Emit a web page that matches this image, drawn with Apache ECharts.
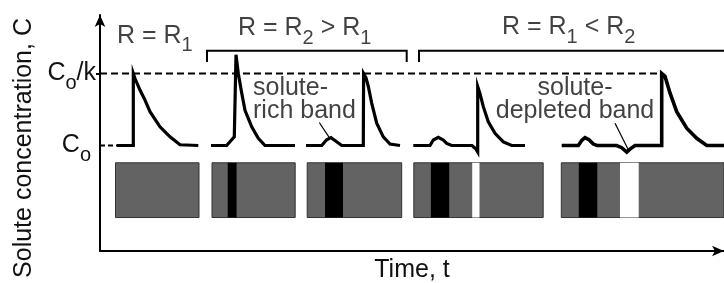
<!DOCTYPE html>
<html lang="en">
<head>
<meta charset="UTF-8">
<title>Solute bands</title>
<script src="https://cdn.jsdelivr.net/npm/echarts@6/dist/echarts.min.js"></script>
<style>
    html, body { margin: 0; padding: 0; background: #fff; }
    #chart { width: 724px; height: 283px; }
</style>
</head>
<body>
<div id="chart"></div>
<script>
// time runs 0..624 (arbitrary units), concentration in units where Co = 1 and Co/k = 2
const yTickValues = [1, 2];
const yTickLabels = ['{c|C}{s2|o}', '{c|C}{s|o}{c|/k}'];

// concentration profiles, one per growth interval
const profile1 = [[17, 1], [33.3, 1], [33.3, 2.0], [35, 1.93], [40, 1.77], [45, 1.63], [50, 1.47], [60, 1.26], [70, 1.12], [80, 1.01], [98.3, 1]];
const profile2 = [[111, 1], [126.7, 1], [131.7, 1.08], [134.3, 1.12], [136, 2.26], [138.3, 2.0], [141.7, 1.73], [145, 1.49], [151.7, 1.26], [158.3, 1.1], [165, 1.0], [195, 1]];
const profile3 = [[206, 1], [221.7, 1], [226.7, 1.08], [231, 1.11], [236, 1.06], [241.7, 1], [263.3, 1], [263.6, 2.0], [266, 1.94], [268.3, 1.82], [271.7, 1.59], [276.7, 1.31], [283.3, 1.12], [290, 1.02], [300, 1]];
const profile4 = [[313.3, 1], [330, 1], [333.3, 1.076], [338.3, 1.114], [343.3, 1.076], [346.7, 1.03], [351.7, 1], [372, 1], [376, 0.95], [377.7, 0.91], [377.7, 1.82], [380, 1.72], [383.3, 1.54], [388.3, 1.33], [395, 1.17], [403.3, 1.05], [411.7, 1], [425, 1]];
const profile5 = [[461.7, 1], [478.3, 1], [481.7, 1.07], [485, 1.11], [489, 1.08], [493.3, 1.02], [497, 1], [516.7, 1], [521.7, 0.97], [526.7, 0.91], [530, 0.95], [535, 1], [561.7, 1], [561.7, 2.0], [565, 1.96], [570, 1.73], [576.7, 1.47], [586.7, 1.24], [596.7, 1.1], [606.7, 1.0], [624, 1]];

// reference levels and brackets
const coKLevel = [[0, 2], [562, 2]];
const coLevel = [[0, 1], [17, 1]];
const bracketR2 = [[107, 2.16], [107, 2.317], [306.7, 2.317], [306.7, 2.16]];
const bracketR1 = [[319, 2.16], [319, 2.317], [624, 2.317]];
const leaderRich = [[219.3, 1.32], [229.3, 1.11]];
const leaderDepleted = [[515, 1.31], [528.3, 0.94]];

// microstructure strips: [tStart, tEnd, cBottom, cTop]
const strips = [[15.5, 99, 0, 0.76], [112, 195.2, 0, 0.76], [207.2, 301.7, 0, 0.76], [313.8, 443.2, 0, 0.76], [461.3, 640, 0, 0.76]];
const richBands = [[127.7, 136.6, 0, 0.76], [225, 243, 0, 0.76], [330.9, 349.2, 0, 0.76], [478.8, 497.3, 0, 0.76]];
const depletedBands = [[372.2, 379.5, 0, 0.76], [520, 538.7, 0, 0.76]];

// text annotations
const noteTexts = ['{m|R = R}{s|1}', '{m|R = R}{s|2}{m| > R}{s|1}', '{m|R = R}{s|1}{m| < R}{s|2}', '{m|solute-}\n{m|rich band}', '{m|solute-}\n{m|depleted band}'];
const notePos = [[17, 2.522], [138, 2.628], [402, 2.639], [153, 1.636], [475, 1.642]];
const noteAlign = ['left', 'left', 'left', 'left', 'center'];

const font = "'Liberation Sans', Arial, Helvetica, sans-serif";
const ink = '#111';
const rich = {
    m: { fontFamily: font, fontSize: 25, color: ink, lineHeight: 23 },
    c: { fontFamily: font, fontSize: 25, color: ink },
    s: { fontFamily: font, fontSize: 20, color: ink, padding: [20, 0, 0, 0] },
    s2: { fontFamily: font, fontSize: 20, color: ink, padding: [20, 5, 0, 0] }
};

function lineSeries(data, width, type) {
    return {
        type: 'line', data: data, symbol: 'none', silent: true,
        lineStyle: { color: '#000', width: width, type: type || 'solid', cap: 'butt', join: 'miter' }
    };
}

function rectSeries(data, fill, stroke) {
    return {
        type: 'custom', data: data, silent: true,
        encode: { x: [0, 1], y: [2, 3] },
        renderItem: function (params, api) {
            let p0 = api.coord([api.value(0), api.value(3)]);
            let p1 = api.coord([api.value(1), api.value(2)]);
            let shape = echarts.graphic.clipRectByRect(
                { x: p0[0], y: p0[1], width: p1[0] - p0[0], height: p1[1] - p0[1] },
                { x: params.coordSys.x, y: params.coordSys.y, width: params.coordSys.width, height: params.coordSys.height }
            );
            return shape && {
                type: 'rect', shape: shape,
                style: { fill: fill, stroke: stroke, lineWidth: stroke ? 1 : 0 }
            };
        }
    };
}

let chart = echarts.init(document.getElementById('chart'));
chart.setOption({
    animation: false,
    backgroundColor: '#fff',
    grid: { left: 100, right: 0, top: 15, bottom: 32, outerBoundsMode: 'none' },
    xAxis: {
        type: 'value', min: 0, max: 624,
        name: 'Time, t', nameLocation: 'middle', nameGap: 7,
        nameTextStyle: { fontFamily: font, fontSize: 25, color: ink },
        axisLine: { onZero: false, lineStyle: { color: '#000', width: 2 }, symbol: ['none', 'arrow'], symbolSize: [8, 12] },
        axisTick: { show: false }, axisLabel: { show: false }, splitLine: { show: false }
    },
    yAxis: {
        type: 'value', min: -0.465, max: 2.8125,
        name: 'Solute concentration, C', nameLocation: 'middle', nameRotate: 90, nameGap: 62,
        nameTextStyle: { fontFamily: font, fontSize: 25, color: ink, padding: [0, 30, 0, 0] },
        axisLine: { onZero: false, lineStyle: { color: '#000', width: 2 }, symbol: ['none', 'arrow'], symbolSize: [8, 12] },
        axisTick: { show: true, customValues: [2], length: 4, lineStyle: { color: '#000', width: 2 } },
        axisLabel: {
            customValues: yTickValues, margin: 4, rich: rich,
            formatter: function (v) { return yTickLabels[yTickValues.indexOf(v)]; }
        },
        splitLine: { show: false }
    },
    series: [
        rectSeries(strips, '#636363', '#333'),
        rectSeries(richBands, '#000'),
        rectSeries(depletedBands, '#fff'),
        lineSeries(coKLevel, 2, [7, 4]),
        lineSeries(coLevel, 2, [5, 3]),
        lineSeries(bracketR2, 2),
        lineSeries(bracketR1, 2),
        lineSeries(leaderRich, 1.2),
        lineSeries(leaderDepleted, 1.2),
        lineSeries(profile1, 3.2),
        lineSeries(profile2, 3.2),
        lineSeries(profile3, 3.2),
        lineSeries(profile4, 3.2),
        lineSeries(profile5, 3.6),
        {
            type: 'scatter', silent: true, symbolSize: 1,
            itemStyle: { color: 'transparent' },
            data: notePos.map(function (p, i) {
                return {
                    value: p,
                    label: {
                        show: true, position: 'inside', align: noteAlign[i], verticalAlign: 'middle',
                        formatter: noteTexts[i], rich: rich
                    }
                };
            })
        }
    ]
});
</script>
</body>
</html>
